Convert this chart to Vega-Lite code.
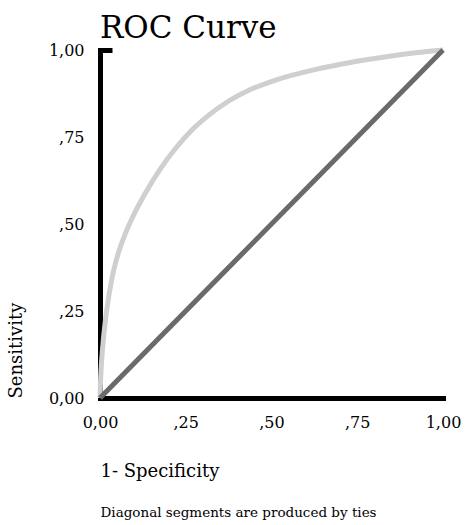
{
  "$schema": "https://vega.github.io/schema/vega-lite/v6.json",
  "autosize": "none",
  "width": 343,
  "height": 348,
  "padding": {"left": 100, "top": 50, "right": 25, "bottom": 127},
  "config": {
    "font": "DejaVu Serif",
    "view": {"stroke": null},
    "axis": {"grid": false, "labelColor": "black", "titleColor": "black", "titleFontWeight": "normal", "labelFont": "DejaVu Serif", "titleFont": "DejaVu Serif"},
    "title": {"font": "DejaVu Serif"}
  },
  "title": {
    "text": "ROC Curve",
    "anchor": "start",
    "frame": "group",
    "font": "DejaVu Serif",
    "fontSize": 31,
    "fontWeight": "normal",
    "color": "black",
    "offset": -5
  },
  "datasets": {
    "curve": [
      {"fpr": 0, "tpr": 0},
      {"fpr": 0.002, "tpr": 0.06},
      {"fpr": 0.005, "tpr": 0.11},
      {"fpr": 0.01, "tpr": 0.17},
      {"fpr": 0.02, "tpr": 0.255},
      {"fpr": 0.035, "tpr": 0.345},
      {"fpr": 0.05, "tpr": 0.405},
      {"fpr": 0.075, "tpr": 0.475},
      {"fpr": 0.1, "tpr": 0.53},
      {"fpr": 0.13, "tpr": 0.585},
      {"fpr": 0.175, "tpr": 0.657},
      {"fpr": 0.22, "tpr": 0.717},
      {"fpr": 0.268, "tpr": 0.77},
      {"fpr": 0.32, "tpr": 0.815},
      {"fpr": 0.373, "tpr": 0.852},
      {"fpr": 0.44, "tpr": 0.887},
      {"fpr": 0.51, "tpr": 0.913},
      {"fpr": 0.633, "tpr": 0.945},
      {"fpr": 0.73, "tpr": 0.964},
      {"fpr": 0.825, "tpr": 0.979},
      {"fpr": 0.92, "tpr": 0.992},
      {"fpr": 1, "tpr": 1}
    ],
    "diag": [
      {"fpr": 0, "tpr": 0},
      {"fpr": 1, "tpr": 1}
    ]
  },
  "encoding": {
    "y": {
      "field": "tpr",
      "type": "quantitative",
      "scale": {"domain": [0, 1], "nice": false, "zero": false},
      "axis": {
        "title": "Sensitivity",
        "titleAnchor": "start",
        "titleFont": "DejaVu Serif",
        "titleFontSize": 18,
        "titlePadding": 23,
        "values": [0, 0.25, 0.5, 0.75, 1],
        "labelExpr": "datum.value == 0 ? '0,00' : datum.value == 1 ? '1,00' : replace(format(datum.value, '.2f'), '0.', ',')",
        "labelFont": "DejaVu Serif",
        "labelFontSize": 16,
        "labelPadding": 28,
        "domainColor": "black",
        "domainWidth": 5,
        "domainCap": "square",
        "ticks": true,
        "tickSize": -12,
        "tickWidth": 5,
        "tickColor": "black",
        "tickOpacity": {"condition": {"test": "datum.value == 1", "value": 1}, "value": 0}
      }
    }
  },
  "layer": [
    {
      "data": {"name": "curve"},
      "mark": {"type": "line", "color": "#cfcfcf", "strokeWidth": 5, "interpolate": "monotone"},
      "encoding": {
        "x": {
          "field": "fpr",
          "type": "quantitative",
          "scale": {"domain": [0, 1], "nice": false, "zero": false},
          "axis": {
            "orient": "bottom",
            "title": "1- Specificity",
            "titleFont": "DejaVu Serif",
            "titleAnchor": "start",
            "titleAlign": "left",
            "titleFontSize": 18,
            "titlePadding": 32,
            "values": [0, 0.25, 0.5, 0.75, 1],
            "labelExpr": "datum.value == 0 ? '0,00' : datum.value == 1 ? '1,00' : replace(format(datum.value, '.2f'), '0.', ',')",
            "labelFont": "DejaVu Serif",
            "labelFontSize": 16,
            "labelPadding": 16,
            "labelFlush": false,
            "domainColor": "black",
            "domainWidth": 5,
            "domainCap": "square",
            "ticks": false
          }
        }
      }
    },
    {
      "data": {"name": "diag"},
      "mark": {"type": "line", "color": "#6a6a6a", "strokeWidth": 5},
      "encoding": {
        "x": {
          "field": "fpr",
          "type": "quantitative",
          "scale": {"domain": [0, 1], "nice": false, "zero": false},
          "axis": {
            "orient": "bottom",
            "title": "Diagonal segments are produced by ties",
            "titleFont": "DejaVu Serif",
            "titleAnchor": "start",
            "titleAlign": "left",
            "titleFontSize": 13.5,
            "titlePadding": 107,
            "labels": false,
            "ticks": false,
            "domain": false
          }
        }
      }
    }
  ],
  "resolve": {"axis": {"x": "independent"}}
}
